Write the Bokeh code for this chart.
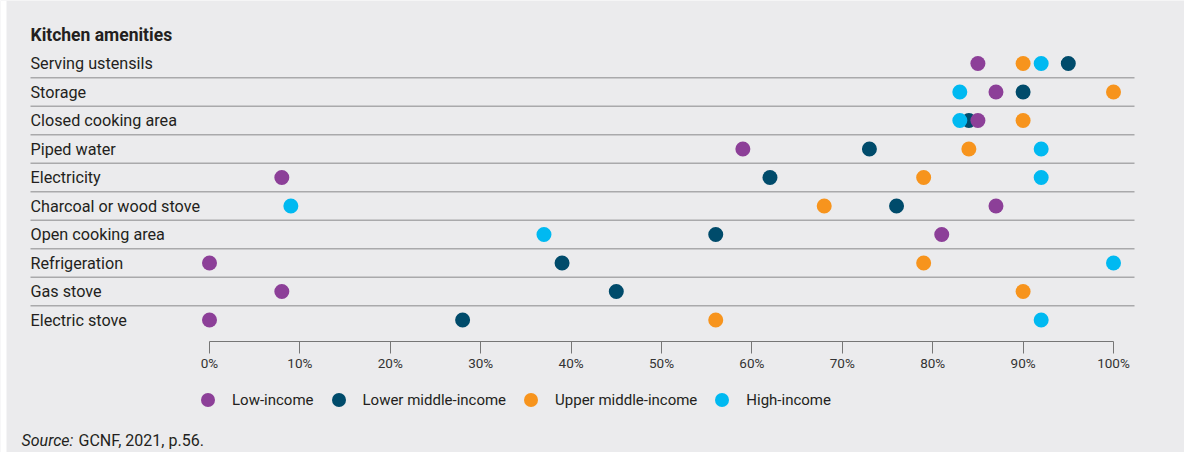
from bokeh.plotting import figure
from bokeh.models import (Range1d, LinearAxis, FixedTicker, PrintfTickFormatter,
                          Label, Legend, LegendItem, ColumnDataSource, BoxAnnotation)
from bokeh.core.properties import value
from bokeh.embed import file_html
from bokeh.resources import INLINE

# ---------------- data ----------------
title_text = "Kitchen amenities"
categories = ["Serving ustensils", "Storage", "Closed cooking area", "Piped water",
              "Electricity", "Charcoal or wood stove", "Open cooking area",
              "Refrigeration", "Gas stove", "Electric stove"]
low_income = [85, 87, 85, 59, 8, 87, 81, 0, 8, 0]
lower_middle_income = [95, 90, 84, 73, 62, 76, 56, 39, 45, 28]
upper_middle_income = [90, 100, 90, 84, 79, 68, None, 79, 90, 56]
high_income = [92, 83, 83, 92, 92, 9, 37, 100, None, 92]
series_names = ["Low-income", "Lower middle-income", "Upper middle-income", "High-income"]
tick_values = [0, 10, 20, 30, 40, 50, 60, 70, 80, 90, 100]
source_italic = "Source:"
source_rest = "GCNF, 2021, p.56."

# ---------------- layout ----------------
W, H = 1184, 452
FONT = "Roboto"
BG = "#ebebed"
TXT = "#231f20"
COLORS = ["#8c3f98", "#004b6b", "#f7941d", "#00b9f1"]

PXU = 9.04          # pixels per percentage point
X0 = 209            # pixel of 0 %
ROW0 = 63           # pixel of first row centre
ROWH = 28.5         # row spacing in px

x_start = -X0 / PXU
x_end = (W - X0) / PXU
y_bottom = (H - ROW0) / ROWH
y_top = -ROW0 / ROWH

p = figure(width=W, height=H, output_backend="svg", toolbar_location=None,
           x_range=Range1d(x_start, x_end), y_range=Range1d(y_bottom, y_top),
           min_border=0, min_border_left=0, min_border_right=0,
           min_border_top=0, min_border_bottom=0,
           x_axis_type=None, y_axis_type=None)
p.background_fill_color = BG
p.border_fill_color = BG
p.outline_line_color = None
p.xgrid.visible = False
p.ygrid.visible = False

# thin white strip at the far left, as in the original page
p.add_layout(BoxAnnotation(left=0, right=6, left_units="screen", right_units="screen",
                           fill_color="white", fill_alpha=1, line_color=None))

n = len(categories)
rows = list(range(n))

# separators between rows
label_x = (30 - X0) / PXU
line_end = (1134 - X0) / PXU
sep_y = [i + 0.5 for i in range(n - 1)]
p.segment(x0=[label_x] * len(sep_y), x1=[line_end] * len(sep_y), y0=sep_y, y1=sep_y,
          line_color="#a9a9ab", line_width=1.5)

# category labels
p.text(x=[label_x] * n, y=rows, text=categories, text_font=value(FONT),
       text_font_size="16.2px", text_color=TXT, text_align="left", text_baseline="middle")
# title
p.text(x=[label_x], y=[-1], text=[title_text], text_font=value(FONT),
       text_font_size="17.5px", text_font_style="bold", text_color=TXT,
       text_align="left", text_baseline="middle")

# axis
axis_y = (341 - ROW0) / ROWH
ax = LinearAxis(fixed_location=axis_y, bounds=(0, 100))
ax.ticker = FixedTicker(ticks=tick_values)
ax.formatter = PrintfTickFormatter(format="%d%%")
ax.axis_line_color = "#767676"
ax.axis_line_width = 1
ax.major_tick_line_color = "#767676"
ax.major_tick_out = 12
ax.major_tick_in = 0
ax.minor_tick_line_color = None
ax.major_label_standoff = 1
ax.major_label_text_font = FONT
ax.major_label_text_font_size = "13.5px"
ax.major_label_text_color = "#333333"
p.add_layout(ax, "below")

# dots
all_series = [low_income, lower_middle_income, upper_middle_income, high_income]
renderers = {}
draw_order = [1, 0, 2, 3]
for k in draw_order:
    vals = all_series[k]
    xs = [v for v in vals if v is not None]
    ys = [i for i, v in enumerate(vals) if v is not None]
    src = ColumnDataSource(dict(x=xs, y=ys))
    renderers[k] = p.scatter("x", "y", source=src, size=15, fill_color=COLORS[k],
                             line_color=None)

legend = Legend(items=[LegendItem(label=series_names[k], renderers=[renderers[k]])
                       for k in range(4)],
                orientation="horizontal", location=(190, 35),
                glyph_width=35, glyph_height=35, label_standoff=7, spacing=7,
                padding=0, margin=0, border_line_color=None,
                background_fill_alpha=0,
                label_text_font=FONT, label_text_font_size="15px",
                label_text_color=TXT, label_height=35)
p.add_layout(legend, "center")

# source note
p.add_layout(Label(x=21, y=3, x_units="screen", y_units="screen", text=source_italic,
                   text_font=FONT, text_font_style="italic", text_font_size="16px",
                   text_color=TXT, text_baseline="bottom"))
p.add_layout(Label(x=78, y=3, x_units="screen", y_units="screen", text=source_rest,
                   text_font=FONT, text_font_size="16px",
                   text_color=TXT, text_baseline="bottom"))

open("out.html", "w").write(file_html(p, INLINE))
